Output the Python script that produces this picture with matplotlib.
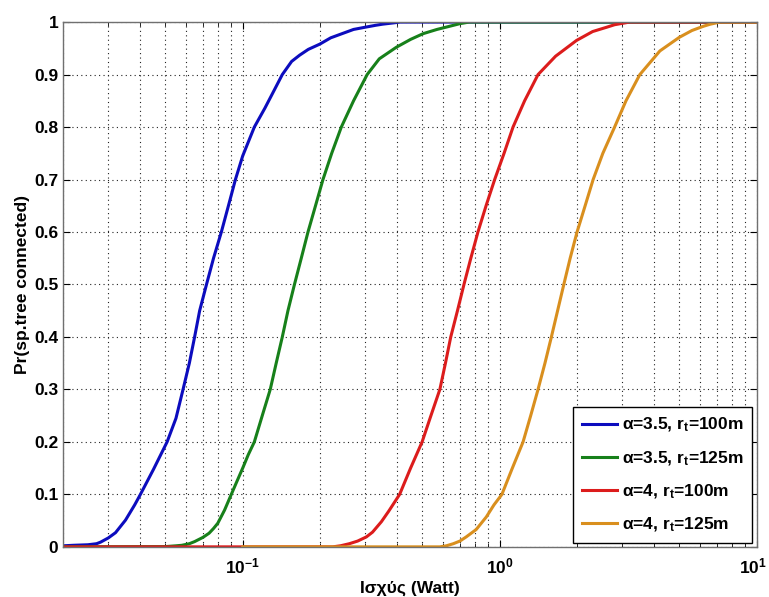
import numpy as np
import matplotlib
matplotlib.use("Agg")
import matplotlib.pyplot as plt
from matplotlib.ticker import LogLocator, NullFormatter, FuncFormatter

plt.rcParams['font.family'] = ['Liberation Sans', 'DejaVu Sans']
plt.rcParams['font.weight'] = 'bold'
plt.rcParams['mathtext.fontset'] = 'custom'
plt.rcParams['mathtext.rm'] = 'Liberation Sans:bold'
plt.rcParams['mathtext.it'] = 'Liberation Sans:bold'
plt.rcParams['mathtext.bf'] = 'Liberation Sans:bold'

# values (power in Watt, probability)
x_blue = [0.02, 0.022, 0.025, 0.027, 0.028, 0.03, 0.032, 0.035, 0.038, 0.04, 0.045,
          0.0508, 0.055, 0.0586, 0.062, 0.065, 0.068, 0.0723, 0.077, 0.0826, 0.088,
          0.0937, 0.10, 0.111, 0.122, 0.13, 0.1426, 0.155, 0.1666, 0.18, 0.1995,
          0.22, 0.25, 0.27, 0.298, 0.33, 0.35, 0.41, 10]
y_blue = [0.002, 0.003, 0.004, 0.006, 0.009, 0.017, 0.027, 0.051, 0.08, 0.10, 0.148,
          0.20, 0.245, 0.30, 0.35, 0.40, 0.45, 0.50, 0.55, 0.60, 0.65,
          0.70, 0.745, 0.80, 0.836, 0.862, 0.90, 0.925, 0.937, 0.948, 0.958,
          0.97, 0.98, 0.986, 0.99, 0.994, 0.996, 1.0, 1.0]

x_green = [0.02, 0.05, 0.055, 0.058, 0.062, 0.065, 0.07, 0.074, 0.077, 0.08, 0.085,
           0.0903, 0.095, 0.10, 0.105, 0.111, 0.12, 0.128, 0.135, 0.1426, 0.15,
           0.159, 0.169, 0.1795, 0.192, 0.2053, 0.222, 0.242, 0.27, 0.305, 0.34,
           0.396, 0.45, 0.504, 0.57, 0.638, 0.7, 0.76, 10]
y_green = [0.0, 0.0005, 0.002, 0.003, 0.006, 0.01, 0.018, 0.026, 0.035, 0.045, 0.07,
           0.10, 0.125, 0.15, 0.175, 0.20, 0.255, 0.30, 0.35, 0.40, 0.45,
           0.50, 0.55, 0.60, 0.65, 0.70, 0.75, 0.80, 0.85, 0.90, 0.93,
           0.952, 0.967, 0.978, 0.986, 0.992, 0.997, 1.0, 1.0]

x_red = [0.02, 0.224, 0.24, 0.26, 0.28, 0.303, 0.32, 0.3466, 0.37, 0.408, 0.45,
         0.499, 0.54, 0.585, 0.615, 0.645, 0.685, 0.726, 0.772, 0.823, 0.885,
         0.956, 1.04, 1.127, 1.25, 1.41, 1.65, 1.99, 2.3, 2.6, 2.8, 3.2, 10]
y_red = [0.0, 0.0, 0.002, 0.006, 0.011, 0.019, 0.028, 0.048, 0.068, 0.10, 0.15,
         0.20, 0.25, 0.30, 0.35, 0.40, 0.45, 0.50, 0.55, 0.60, 0.65,
         0.70, 0.75, 0.80, 0.85, 0.90, 0.935, 0.965, 0.982, 0.99, 0.995, 1.0, 1.0]

x_orange = [0.1, 0.585, 0.62, 0.66, 0.70, 0.741, 0.81, 0.887, 0.95, 1.02, 1.12,
            1.233, 1.32, 1.41, 1.5, 1.589, 1.68, 1.776, 1.88, 2.0, 2.15,
            2.31, 2.52, 2.80, 3.1, 3.51, 4.2, 5.0, 5.6, 6.2, 6.6, 7.2, 10]
y_orange = [0.0, 0.0, 0.002, 0.006, 0.011, 0.019, 0.033, 0.057, 0.08, 0.10, 0.15,
            0.20, 0.25, 0.30, 0.35, 0.40, 0.45, 0.50, 0.55, 0.60, 0.65,
            0.70, 0.75, 0.80, 0.85, 0.90, 0.945, 0.971, 0.984, 0.992, 0.996, 1.0, 1.0]

labels = [r'α=3.5, r$_t$=100m', r'α=3.5, r$_t$=125m',
          r'α=4, r$_t$=100m', r'α=4, r$_t$=125m']
colors = ['#0c0cbe', '#17801a', '#dc1c1c', '#d98f1e']

fig = plt.figure(figsize=(7.69, 5.97), dpi=100)
ax = fig.add_axes([0.082, 0.084, 0.902, 0.879])

series = [(x_blue, y_blue), (x_green, y_green), (x_red, y_red), (x_orange, y_orange)]
for (xs, ys), lab, c in zip(series, labels, colors):
    ax.plot(xs, ys, color=c, lw=2.2, label=lab, solid_joinstyle='round')

ax.set_xscale('log')
ax.set_xlim(0.02, 10)
ax.set_ylim(0, 1)
ax.set_yticks(np.arange(0, 1.01, 0.1))
ax.set_yticklabels(['0', '0.1', '0.2', '0.3', '0.4', '0.5', '0.6', '0.7', '0.8', '0.9', '1'])
ax.xaxis.set_minor_locator(LogLocator(base=10, subs=np.arange(2, 10), numticks=20))
ax.xaxis.set_minor_formatter(NullFormatter())
# last decade label is drawn separately so it stays inside the picture
ax.xaxis.set_major_formatter(FuncFormatter(
    lambda v, p: '' if v >= 9.99 else r'$10^{%d}$' % round(np.log10(v))))
ax.annotate(r'$10^{1}$', xy=(10, 0), xycoords=('data', 'axes fraction'),
            xytext=(-3, -7), textcoords='offset points', ha='center', va='top',
            fontsize=12.5)

ax.grid(True, which='major', ls=(0, (1, 3)), color='#222222', lw=0.8)
ax.grid(True, which='minor', axis='x', ls=(0, (1, 3)), color='#222222', lw=0.8)
ax.tick_params(which='both', direction='in', top=True, right=True, labelsize=12.5)
ax.tick_params(axis='x', which='major', pad=7)
ax.tick_params(which='major', length=5)
ax.tick_params(which='minor', length=3)
for s in ax.spines.values():
    s.set_color('#707070')
    s.set_linewidth(1.0)

ax.set_xlabel('Ισχύς (Watt)', fontsize=12.5, fontweight='bold', labelpad=3)
ax.set_ylabel('Pr(sp.tree connected)', fontsize=12.5, fontweight='bold', labelpad=3)

leg = ax.legend(loc='lower right', fontsize=12.5, fancybox=False, edgecolor='black',
                framealpha=1, handlelength=2.0, borderaxespad=0.25, labelspacing=0.85,
                handletextpad=0.3, borderpad=0.5)
leg.get_frame().set_linewidth(1.0)

fig.savefig('out.png', dpi=100)
